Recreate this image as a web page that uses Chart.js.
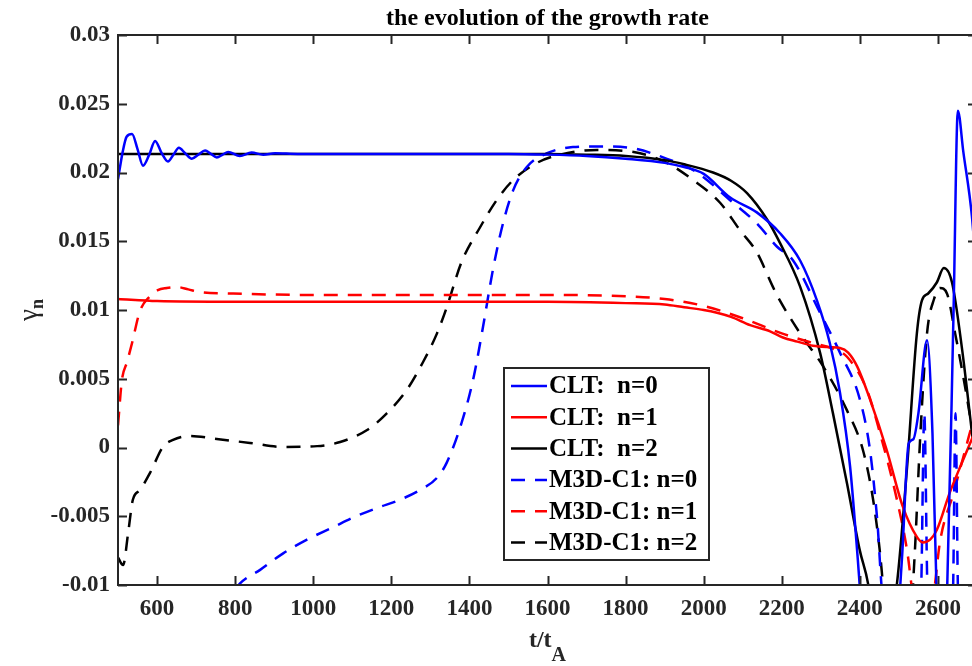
<!DOCTYPE html>
<html>
<head>
<meta charset="utf-8">
<title>growth rate</title>
<script src="https://cdn.jsdelivr.net/npm/chart.js@4.4.0/dist/chart.umd.min.js"></script>
<style>
  html, body { margin: 0; padding: 0; background: #fff; overflow: hidden; }
</style>
</head>
<body>
<canvas id="myChart" width="980" height="666"></canvas>
<script>
// ticks
const xTicks = [600, 800, 1000, 1200, 1400, 1600, 1800, 2000, 2200, 2400, 2600];
const yTicks = [-0.01, -0.005, 0, 0.005, 0.01, 0.015, 0.02, 0.025, 0.03];

// CLT n=0 (blue solid)
const cltN0T = [500, 512, 522, 536, 550, 564, 580, 595, 612, 628, 642, 656, 672, 689, 706, 723, 738, 753, 768, 782, 812, 842, 872, 902, 960, 1100, 1300, 1500, 1600, 1700, 1800, 1900, 1950, 2000, 2067, 2136, 2195, 2247, 2290, 2323, 2349, 2375, 2393, 2405, 2420, 2450, 2490, 2508, 2525, 2537, 2550, 2572, 2586, 2597, 2610, 2623, 2640, 2651, 2665, 2687, 2700];
const cltN0G = [0.0195, 0.0215, 0.0226, 0.0228, 0.0217, 0.0205, 0.0213, 0.0223, 0.0214, 0.0208, 0.0213, 0.0218, 0.0214, 0.0210, 0.0213, 0.0216, 0.02135, 0.0211, 0.0213, 0.0215, 0.0212, 0.02145, 0.0213, 0.0214, 0.02135, 0.02135, 0.02135, 0.02135, 0.0213, 0.0212, 0.0210, 0.0207, 0.0204, 0.0199, 0.0182, 0.0171, 0.0156, 0.0136, 0.0107, 0.0076, 0.0040, -0.0014, -0.0075, -0.012, -0.016, -0.018, -0.015, -0.008, 0.0003, 0.0006, 0.0025, 0.0078, 0.001, -0.011, -0.016, -0.011, 0.010, 0.0245, 0.0215, 0.0168, 0.012];

// CLT n=1 (red solid)
const cltN1T = [500, 600, 800, 1000, 1200, 1400, 1600, 1800, 1900, 1950, 2000, 2034, 2070, 2119, 2170, 2203, 2240, 2280, 2323, 2349, 2370, 2393, 2426, 2469, 2510, 2546, 2561, 2580, 2597, 2630, 2660, 2700];
const cltN1G = [0.0108, 0.01065, 0.0106, 0.0106, 0.0106, 0.0106, 0.0106, 0.0105, 0.0104, 0.0102, 0.0100, 0.0098, 0.0095, 0.0089, 0.00845, 0.0080, 0.0077, 0.0074, 0.0073, 0.00724, 0.0069, 0.0059, 0.0035, -0.0002, -0.0043, -0.0065, -0.0069, -0.0067, -0.0060, -0.0033, -0.0012, 0.0015];

// CLT n=2 (black solid)
const cltN2T = [500, 800, 1100, 1400, 1600, 1700, 1800, 1900, 1950, 2024, 2070, 2111, 2162, 2195, 2247, 2298, 2331, 2367, 2400, 2421, 2440, 2470, 2495, 2521, 2546, 2559, 2575, 2597, 2615, 2636, 2662, 2687, 2700];
const cltN2G = [0.02135, 0.02135, 0.02135, 0.02135, 0.02135, 0.0213, 0.0212, 0.0209, 0.0206, 0.0200, 0.0194, 0.0185, 0.0166, 0.0149, 0.0117, 0.0069, 0.0025, -0.0026, -0.0075, -0.0099, -0.014, -0.014, -0.0099, -0.0014, 0.0083, 0.0107, 0.0112, 0.0120, 0.01305, 0.0120, 0.0071, 0.0011, -0.002];

// M3D-C1 n=0 (blue dashed)
const m3dN0T = [500, 700, 790, 812, 864, 923, 984, 1051, 1102, 1163, 1222, 1273, 1317, 1342, 1380, 1410, 1435, 1460, 1486, 1512, 1547, 1599, 1665, 1727, 1811, 1896, 1983, 2067, 2136, 2188, 2229, 2298, 2349, 2400, 2426, 2444, 2460, 2540, 2556, 2565, 2574, 2590, 2630, 2638, 2645, 2652, 2670, 2700];
const m3dN0G = [-0.016, -0.0125, -0.0108, -0.0099, -0.0089, -0.0077, -0.0067, -0.0058, -0.0051, -0.0044, -0.0038, -0.0031, -0.0022, -0.0011, 0.0018, 0.0050, 0.0088, 0.0129, 0.0163, 0.0187, 0.0204, 0.0214, 0.02185, 0.0219, 0.0218, 0.0211, 0.0200, 0.0180, 0.0163, 0.0146, 0.0136, 0.0098, 0.0069, 0.0035, -0.0002, -0.0051, -0.011, -0.012, -0.011, 0.0025, -0.011, -0.012, -0.012, -0.011, 0.0025, -0.011, -0.012, -0.012];

// M3D-C1 n=1 (red dashed)
const m3dN1T = [500, 510, 523, 536, 556, 582, 602, 625, 651, 680, 710, 795, 966, 1200, 1400, 1600, 1800, 1900, 2000, 2100, 2200, 2280, 2330, 2367, 2418, 2451, 2495, 2521, 2540, 2575, 2590, 2605, 2640, 2700];
const m3dN1G = [0.0016, 0.0049, 0.0062, 0.0076, 0.0099, 0.0110, 0.01145, 0.0116, 0.01167, 0.0115, 0.0113, 0.0112, 0.0111, 0.0111, 0.0111, 0.0111, 0.0110, 0.0108, 0.0103, 0.0094, 0.0083, 0.0076, 0.0072, 0.0066, 0.0042, 0.0011, -0.0038, -0.0075, -0.0115, -0.013, -0.0105, -0.0069, -0.0033, 0.003];

// M3D-C1 n=2 (black dashed)
const m3dN2T = [500, 513, 526, 538, 556, 582, 615, 641, 684, 753, 838, 923, 1010, 1069, 1138, 1189, 1240, 1281, 1317, 1342, 1380, 1427, 1470, 1512, 1573, 1632, 1727, 1837, 1906, 1973, 2042, 2093, 2136, 2177, 2195, 2247, 2306, 2367, 2408, 2434, 2451, 2459, 2480, 2520, 2540, 2555, 2572, 2590, 2605, 2623, 2644, 2675, 2700];
const m3dN2G = [-0.0080, -0.00855, -0.0062, -0.0038, -0.0031, -0.00185, 0.00004, 0.00055, 0.00084, 0.00062, 0.00033, 0.00004, 0.0001, 0.0004, 0.00127, 0.0025, 0.0042, 0.0062, 0.0083, 0.0102, 0.0135, 0.0160, 0.0180, 0.01945, 0.0207, 0.0213, 0.02164, 0.0214, 0.0207, 0.01945, 0.0178, 0.0158, 0.0142, 0.0117, 0.0107, 0.0083, 0.0059, 0.0027, -0.0002, -0.0038, -0.0075, -0.0099, -0.016, -0.016, -0.008, 0.0010, 0.0083, 0.0108, 0.0116, 0.0112, 0.0083, 0.0035, -0.001];

const toPts = (t, g) => t.map((v, i) => ({ x: v, y: g[i] }));

const serif = '"Liberation Serif", "Times New Roman", serif';
const axisColor = '#262626';
const dash = [14, 10];

function line(label, t, g, color, dashed) {
  return {
    label: label,
    data: toPts(t, g),
    borderColor: color,
    backgroundColor: color,
    borderWidth: 2.5,
    borderDash: dashed ? dash : [],
    pointRadius: 0,
    fill: false,
    cubicInterpolationMode: 'monotone'
  };
}

// frame, inward ticks, title, axis labels and legend, drawn like the matlab figure
const matlabLook = {
  id: 'matlabLook',
  afterDraw(chart) {
    const ctx = chart.ctx;
    const a = chart.chartArea;
    const xs = chart.scales.x, ys = chart.scales.y;
    ctx.save();
    ctx.strokeStyle = axisColor;
    ctx.lineWidth = 2;
    ctx.setLineDash([]);
    ctx.strokeRect(a.left, a.top, a.right - a.left, a.bottom - a.top);
    const tl = 9;
    ctx.beginPath();
    xTicks.forEach(v => {
      const p = Math.round(xs.getPixelForValue(v)) + 0.5;
      ctx.moveTo(p, a.bottom); ctx.lineTo(p, a.bottom - tl);
      ctx.moveTo(p, a.top); ctx.lineTo(p, a.top + tl);
    });
    yTicks.forEach(v => {
      const p = Math.round(ys.getPixelForValue(v)) + 0.5;
      ctx.moveTo(a.left, p); ctx.lineTo(a.left + tl, p);
      ctx.moveTo(a.right, p); ctx.lineTo(a.right - tl, p);
    });
    ctx.stroke();

    const cx = (a.left + a.right) / 2;
    ctx.fillStyle = '#000';
    ctx.textAlign = 'center';
    ctx.textBaseline = 'alphabetic';
    ctx.font = 'bold 24px ' + serif;
    ctx.fillText('the evolution of the growth rate', cx, 25);

    // x label t/t_A
    ctx.fillStyle = axisColor;
    ctx.font = 'bold 24px ' + serif;
    const w1 = ctx.measureText('t/t').width;
    ctx.font = 'bold 20px ' + serif;
    const w2 = ctx.measureText('A').width;
    let x0 = cx - (w1 + w2) / 2;
    ctx.textAlign = 'left';
    ctx.font = 'bold 24px ' + serif;
    ctx.fillText('t/t', x0, 647);
    ctx.font = 'bold 20px ' + serif;
    ctx.fillText('A', x0 + w1, 661);

    // y label gamma_n
    ctx.save();
    ctx.translate(37, (a.top + a.bottom) / 2);
    ctx.rotate(-Math.PI / 2);
    ctx.font = '27px ' + serif;
    const g1 = ctx.measureText('γ').width;
    ctx.font = 'bold 18px ' + serif;
    const g2 = ctx.measureText('n').width;
    const y0 = -(g1 + g2) / 2;
    ctx.font = '27px ' + serif;
    ctx.fillText('γ', y0, 0);
    ctx.font = 'bold 18px ' + serif;
    ctx.fillText('n', y0 + g1, 6);
    ctx.restore();

    // legend box
    const bx = 504, by = 368, bw = 205, bh = 192;
    ctx.fillStyle = '#fff';
    ctx.fillRect(bx, by, bw, bh);
    ctx.strokeStyle = axisColor;
    ctx.lineWidth = 2;
    ctx.strokeRect(bx, by, bw, bh);
    ctx.font = 'bold 25px ' + serif;
    ctx.textBaseline = 'middle';
    chart.data.datasets.forEach((ds, i) => {
      const ry = by + 18 + i * 31.3;
      ctx.strokeStyle = ds.borderColor;
      ctx.lineWidth = 2.5;
      ctx.setLineDash(ds.borderDash);
      ctx.beginPath();
      ctx.moveTo(bx + 7, ry);
      ctx.lineTo(bx + 43, ry);
      ctx.stroke();
      ctx.setLineDash([]);
      ctx.fillStyle = '#000';
      ctx.fillText(ds.label, bx + 45, ry + 1);
    });
    ctx.restore();
  }
};

const ctx = document.getElementById('myChart').getContext('2d');
const myChart = new Chart(ctx, {
  type: 'line',
  data: {
    datasets: [
      line('CLT:  n=0', cltN0T, cltN0G, '#0000ff', false),
      line('CLT:  n=1', cltN1T, cltN1G, '#ff0000', false),
      line('CLT:  n=2', cltN2T, cltN2G, '#000000', false),
      line('M3D-C1: n=0', m3dN0T, m3dN0G, '#0000ff', true),
      line('M3D-C1: n=1', m3dN1T, m3dN1G, '#ff0000', true),
      line('M3D-C1: n=2', m3dN2T, m3dN2G, '#000000', true)
    ]
  },
  options: {
    responsive: false,
    animation: false,
    layout: { padding: { left: 0, right: 3, top: 35, bottom: 0 } },
    plugins: {
      legend: { display: false },
      title: { display: false },
      tooltip: { enabled: false }
    },
    scales: {
      x: {
        type: 'linear',
        min: 500,
        max: 2700,
        grid: { display: false, drawTicks: false },
        border: { display: false },
        ticks: {
          color: axisColor,
          font: { family: serif, size: 23, weight: 'bold' },
          padding: 10,
          maxRotation: 0,
          callback: v => String(v)
        },
        afterBuildTicks: s => { s.ticks = xTicks.map(v => ({ value: v })); },
        afterFit: s => { s.height = 81; }
      },
      y: {
        type: 'linear',
        min: -0.01,
        max: 0.03,
        grid: { display: false, drawTicks: false },
        border: { display: false },
        ticks: {
          color: axisColor,
          font: { family: serif, size: 23, weight: 'bold' },
          padding: 8,
          callback: v => String(+v.toFixed(3))
        },
        afterBuildTicks: s => { s.ticks = yTicks.map(v => ({ value: v })); },
        afterFit: s => { s.width = 118; }
      }
    }
  },
  plugins: [matlabLook]
});
</script>
</body>
</html>
